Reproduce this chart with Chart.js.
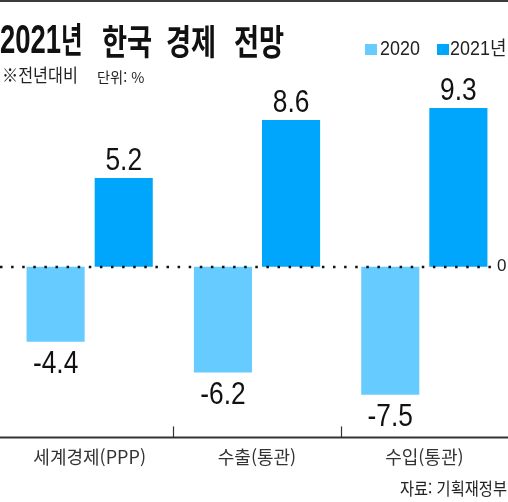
<!DOCTYPE html>
<html lang="ko">
<head>
<meta charset="utf-8">
<script src="https://cdn.jsdelivr.net/npm/chart.js@4.4.1/dist/chart.umd.min.js"></script>
<style>
  html, body { margin: 0; padding: 0; background: #fff; }
  #wrap { position: relative; width: 508px; height: 502px; overflow: hidden; }
  #topline { position: absolute; left: 0; top: 0; width: 508px; height: 2px; background: #3c3c3c; }
  #chart { position: absolute; left: 0; top: 0; }
  .t { position: absolute; white-space: nowrap; transform-origin: 0 0; color: #111; line-height: 1; }
  .title { font-family: "Noto Sans CJK KR", sans-serif; font-weight: 700; font-size: 35px; transform: scaleX(0.78); }
  .title.first { transform: scaleX(0.67); }
  .title .num { font-family: "Liberation Sans", sans-serif; font-size: 41px; }
  .sub { font-family: "Noto Sans CJK KR", sans-serif; font-size: 18px; transform: scaleX(0.9); color: #222; }
  .unit { font-family: "Noto Sans CJK KR", sans-serif; font-size: 15px; transform: scaleX(0.95); color: #222; }
  .src { font-family: "Noto Sans CJK KR", sans-serif; font-size: 17px; transform: scaleX(0.9); transform-origin: 100% 0; color: #222; right: 1px; }
  .lg-box { position: absolute; width: 12px; height: 11px; }
  .lg-text { font-family: "Liberation Sans", "Noto Sans CJK KR", sans-serif; font-size: 19.5px; transform: scaleX(0.92); color: #222; }
</style>
</head>
<body>
<div id="wrap">
  <canvas id="chart" width="508" height="502"></canvas>
  <div id="topline"></div>
  <div class="t title first" style="left:0; top:19px;"><span class="num">2021</span>년</div>
  <div class="t title" style="left:102px; top:22px;">한국</div>
  <div class="t title" style="left:166px; top:22px;">경제</div>
  <div class="t title" style="left:234px; top:22px;">전망</div>
  <div class="t sub" style="left:2px; top:65px;">※전년대비</div>
  <div class="t unit" style="left:97px; top:69px;">단위: %</div>
  <div id="legend"></div>
  <div class="t src" style="top:479px;">자료: 기획재정부</div>
</div>
<script>
const categories = ['세계경제(PPP)', '수출(통관)', '수입(통관)'];
const seriesNames = ['2020', '2021년'];
const values2020 = [-4.4, -6.2, -7.5];
const values2021 = [5.2, 8.6, 9.3];
const yMin = -10;
const yMax = 10;

const colors = ['#66cbff', '#00a6fb'];

// legend in html, built from series names
const legendSpots = [{ box: 365, text: 380 }, { box: 437, text: 450 }];
const legendEl = document.getElementById('legend');
seriesNames.forEach((name, i) => {
  const box = document.createElement('div');
  box.className = 'lg-box';
  box.style.left = legendSpots[i].box + 'px';
  box.style.top = '44px';
  box.style.background = colors[i];
  legendEl.appendChild(box);
  const txt = document.createElement('div');
  txt.className = 't lg-text';
  txt.style.left = legendSpots[i].text + 'px';
  txt.style.top = '39px';
  txt.textContent = name;
  legendEl.appendChild(txt);
});

const axisLines = {
  id: 'axisLines',
  afterDatasetsDraw(chart) {
    const { ctx, scales: { x, y } } = chart;
    const y0 = Math.round(y.getPixelForValue(0));
    const yb = y.getPixelForValue(yMin);
    ctx.save();

    // dotted zero line, drawn over the bars
    ctx.strokeStyle = '#111';
    ctx.lineWidth = 2.5;
    ctx.setLineDash([2.5, 8.6]);
    ctx.beginPath();
    ctx.moveTo(0, y0);
    ctx.lineTo(492, y0);
    ctx.stroke();
    ctx.setLineDash([]);

    // bottom axis across the whole width
    ctx.strokeStyle = '#333';
    ctx.lineWidth = 2;
    ctx.beginPath();
    ctx.moveTo(0, yb);
    ctx.lineTo(chart.width, yb);
    ctx.stroke();

    // short separators between categories
    ctx.lineWidth = 1.2;
    for (let i = 0; i < categories.length - 1; i++) {
      const xs = Math.round((x.getPixelForValue(i) + x.getPixelForValue(i + 1)) / 2) + 0.5;
      ctx.beginPath();
      ctx.moveTo(xs, yb);
      ctx.lineTo(xs, yb - 11);
      ctx.stroke();
    }

    ctx.fillStyle = '#222';
    ctx.font = '17px "Liberation Sans", sans-serif';
    ctx.textAlign = 'left';
    ctx.textBaseline = 'middle';
    ctx.fillText('0', 497, y0 - 1);
    ctx.restore();
  }
};

const valueLabels = {
  id: 'valueLabels',
  afterDatasetsDraw(chart) {
    const ctx = chart.ctx;
    ctx.save();
    ctx.fillStyle = '#111';
    ctx.font = '31px "Liberation Sans", sans-serif';
    ctx.textAlign = 'center';
    ctx.textBaseline = 'alphabetic';
    chart.data.datasets.forEach((ds, i) => {
      chart.getDatasetMeta(i).data.forEach((bar, j) => {
        const v = ds.data[j];
        const ty = v >= 0 ? bar.y - 8 : bar.y + 31;
        ctx.save();
        ctx.translate(bar.x, ty);
        ctx.scale(0.85, 1);
        ctx.fillText(v.toFixed(1), 0, 0);
        ctx.restore();
      });
    });
    ctx.restore();
  }
};

new Chart(document.getElementById('chart'), {
  type: 'bar',
  data: {
    labels: categories,
    datasets: [
      { label: seriesNames[0], data: values2020, backgroundColor: colors[0] },
      { label: seriesNames[1], data: values2021, backgroundColor: colors[1] }
    ]
  },
  options: {
    responsive: false,
    animation: false,
    layout: { padding: { left: 6, right: 0, top: 96, bottom: 33 } },
    datasets: { bar: { categoryPercentage: 0.814, barPercentage: 0.853 } },
    plugins: { legend: { display: false }, tooltip: { enabled: false } },
    scales: {
      x: {
        grid: { display: false },
        border: { display: false },
        ticks: {
          color: '#333',
          font: { family: '"Noto Sans CJK KR", sans-serif', size: 18 },
          padding: 1,
          maxRotation: 0,
          autoSkip: false
        }
      },
      y: { display: false, min: yMin, max: yMax }
    }
  },
  plugins: [axisLines, valueLabels]
});
</script>
</body>
</html>
